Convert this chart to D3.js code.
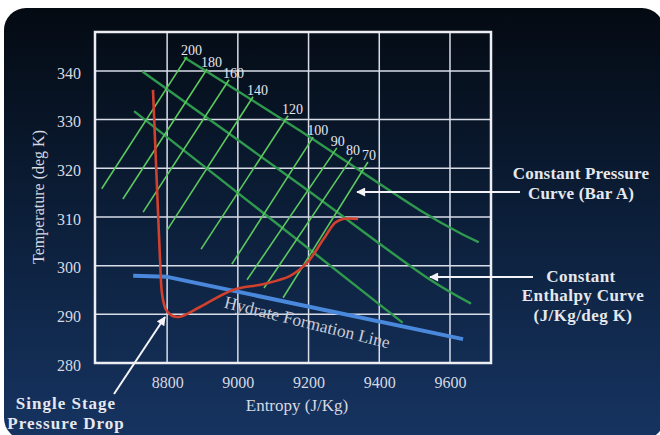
<!DOCTYPE html>
<html><head><meta charset="utf-8">
<script src="https://cdn.jsdelivr.net/npm/d3@7"></script>
<style>html,body{margin:0;padding:0;background:#fff;}svg{display:block;}</style>
</head><body>
<svg id="chart" width="660" height="435"></svg>
<script>
// ---- data ----
const xTicks = [8800, 9000, 9200, 9400, 9600];
const yTicks = [280, 290, 300, 310, 320, 330, 340];
// constant pressure lines (bar A): bottom and top end points (entropy, temperature)
const pressureLabels = ["200", "180", "160", "140", "120", "100", "90", "80", "70"];
const pLowS  = [8615, 8675, 8732, 8800, 8896, 8983, 9026, 9074, 9128];
const pLowT  = [315.8, 313.7, 311.0, 307.3, 303.4, 300.3, 297.1, 295.4, 293.4];
const pHighS = [8856, 8913, 8975, 9043, 9142, 9213, 9280, 9323, 9368];
const pHighT = [342.9, 340.4, 338.2, 334.7, 330.8, 326.4, 324.2, 322.3, 321.3];
// constant enthalpy curves
const enthalpy1S = [8850, 9176, 9515, 9628, 9679];
const enthalpy1T = [342.7, 327.7, 311.4, 306.7, 304.9];
const enthalpy2S = [8732, 9176, 9544, 9657];
const enthalpy2T = [339.8, 316.6, 297.1, 292.3];
const enthalpy3S = [8709, 9464];
const enthalpy3T = [331.6, 288.4];
// process path (single stage pressure drop)
const pathS = [8760, 8774, 8780, 8786, 8797, 8814, 8836, 8893, 8986, 9071, 9148, 9196, 9241, 9275, 9297, 9340];
const pathT = [336.1, 311.4, 301.2, 294.0, 290.9, 289.7, 289.5, 291.5, 295.0, 296.2, 297.9, 300.6, 305.3, 308.8, 309.6, 309.6];
// hydrate formation line
const hydrateS = [8704, 8800, 9637];
const hydrateT = [297.9, 297.7, 284.9];

// ---- drawing ----
const svg = d3.select("#chart");
const defs = svg.append("defs");
const grad = defs.append("linearGradient").attr("id", "bg").attr("x1", 0).attr("y1", 0).attr("x2", 0).attr("y2", 1);
grad.append("stop").attr("offset", "0%").attr("stop-color", "#040a12");
grad.append("stop").attr("offset", "45%").attr("stop-color", "#0b1d36");
grad.append("stop").attr("offset", "100%").attr("stop-color", "#163462");
defs.append("marker").attr("id", "arrow").attr("viewBox", "0 0 10 10").attr("refX", 9).attr("refY", 5)
  .attr("markerWidth", 11).attr("markerHeight", 9).attr("markerUnits", "userSpaceOnUse").attr("orient", "auto")
  .append("path").attr("d", "M0,0 L10,5 L0,10 z").attr("fill", "#f4f4f8");

svg.append("rect").attr("x", 4).attr("y", 8).attr("width", 660).attr("height", 432).attr("rx", 22).attr("fill", "url(#bg)");

const x = d3.scaleLinear().domain([8596, 9716]).range([95, 491]);
const y = d3.scaleLinear().domain([280, 348]).range([363, 32]);

const serif = "'Liberation Serif', 'Times New Roman', serif";
const textCol = "#d6d9e2";

// grid
const g = svg.append("g");
g.selectAll(".vg").data(xTicks).join("line")
  .attr("x1", d => x(d)).attr("x2", d => x(d)).attr("y1", y(348)).attr("y2", y(280))
  .attr("stroke", "#d9dde8").attr("stroke-width", 1.5);
g.selectAll(".hg").data(yTicks.filter(t => t > 280)).join("line")
  .attr("x1", x(8596)).attr("x2", x(9716)).attr("y1", d => y(d)).attr("y2", d => y(d))
  .attr("stroke", "#d9dde8").attr("stroke-width", 1.5);

// axes (labels only, frame drawn separately)
const xAxis = d3.axisBottom(x).tickValues(xTicks).tickSize(0).tickPadding(14).tickFormat(d3.format("d"));
const yAxis = d3.axisLeft(y).tickValues(yTicks).tickSize(0).tickPadding(14).tickFormat(d3.format("d"));
const gx = svg.append("g").attr("transform", `translate(0,${y(280)})`).call(xAxis);
const gy = svg.append("g").attr("transform", `translate(${x(8596)},0)`).call(yAxis);
[gx, gy].forEach(a => {
  a.select(".domain").remove();
  a.selectAll("text").attr("fill", textCol).style("font-family", serif).style("font-size", "16px");
});
gy.selectAll("text").attr("dy", "0.45em");

// constant enthalpy curves (darker green)
const line = d3.line().x(d => x(d[0])).y(d => y(d[1]));
const smooth = d3.line().x(d => x(d[0])).y(d => y(d[1])).curve(d3.curveCatmullRom.alpha(0.5));
const enth = [[enthalpy1S, enthalpy1T], [enthalpy2S, enthalpy2T], [enthalpy3S, enthalpy3T]];
svg.append("g").selectAll("path").data(enth).join("path")
  .attr("d", ([s, t]) => smooth(s.map((v, i) => [v, t[i]])))
  .attr("fill", "none").attr("stroke", "#2f9a4e").attr("stroke-width", 2.4).attr("stroke-linecap", "round");

// constant pressure lines (bright green)
const pres = pressureLabels.map((l, i) => ({ l, a: [pLowS[i], pLowT[i]], b: [pHighS[i], pHighT[i]] }));
svg.append("g").selectAll("path").data(pres).join("path")
  .attr("d", d => line([d.a, d.b]))
  .attr("fill", "none").attr("stroke", "#5cc85e").attr("stroke-width", 1.6);
svg.append("g").selectAll("text").data(pres).join("text")
  .attr("x", d => x(d.b[0]) - 6).attr("y", d => y(d.b[1]) - 2)
  .text(d => d.l).attr("fill", "#e4e6ee").style("font-family", serif).style("font-size", "14px");

// hydrate line
svg.append("path").attr("d", line(hydrateS.map((v, i) => [v, hydrateT[i]])))
  .attr("fill", "none").attr("stroke", "#4a88dc").attr("stroke-width", 4).attr("stroke-linejoin", "round");
svg.append("text").attr("transform", `translate(${x(9192)},${y(287.2)}) rotate(14)`)
  .attr("text-anchor", "middle").text("Hydrate Formation Line")
  .attr("fill", "#c9ccd8").style("font-family", serif).style("font-size", "17.5px");

// process path
svg.append("path").attr("d", smooth(pathS.map((v, i) => [v, pathT[i]])))
  .attr("fill", "none").attr("stroke", "#d2402e").attr("stroke-width", 2.6).attr("stroke-linejoin", "round");

// frame
svg.append("rect").attr("x", x(8596)).attr("y", y(348)).attr("width", x(9716) - x(8596)).attr("height", y(280) - y(348))
  .attr("fill", "none").attr("stroke", "#eceef4").attr("stroke-width", 2.5);

// axis titles
svg.append("text").attr("x", 297).attr("y", 411).attr("text-anchor", "middle").text("Entropy (J/Kg)")
  .attr("fill", textCol).style("font-family", serif).style("font-size", "17px");
svg.append("text").attr("transform", "translate(44,197) rotate(-90)").attr("text-anchor", "middle").text("Temperature (deg K)")
  .attr("fill", textCol).style("font-family", serif).style("font-size", "16px");

// annotations
const ann = svg.append("g").style("font-family", serif).style("font-weight", "bold").style("font-size", "17px").attr("fill", "#e6e8ee").attr("text-anchor", "middle");
ann.append("text").attr("x", 581).attr("y", 179).style("letter-spacing", "0.2px").text("Constant Pressure");
ann.append("text").attr("x", 581).attr("y", 199).style("letter-spacing", "0.2px").text("Curve (Bar A)");
ann.append("text").attr("x", 581).attr("y", 282).style("letter-spacing", "0.4px").text("Constant");
ann.append("text").attr("x", 583).attr("y", 301).style("letter-spacing", "0.4px").text("Enthalpy Curve");
ann.append("text").attr("x", 583).attr("y", 321).style("letter-spacing", "0.4px").text("(J/Kg/deg K)");
ann.append("text").attr("x", 66).attr("y", 409).style("letter-spacing", "1px").text("Single Stage");
ann.append("text").attr("x", 66).attr("y", 429).style("letter-spacing", "1px").text("Pressure Drop");

const arrows = [[520, 192, 357, 192], [533, 277, 430, 277], [114, 394, 165, 317]];
svg.append("g").selectAll("line").data(arrows).join("line")
  .attr("x1", d => d[0]).attr("y1", d => d[1]).attr("x2", d => d[2]).attr("y2", d => d[3])
  .attr("stroke", "#f4f4f8").attr("stroke-width", 2).attr("marker-end", "url(#arrow)");
</script>
</body></html>
